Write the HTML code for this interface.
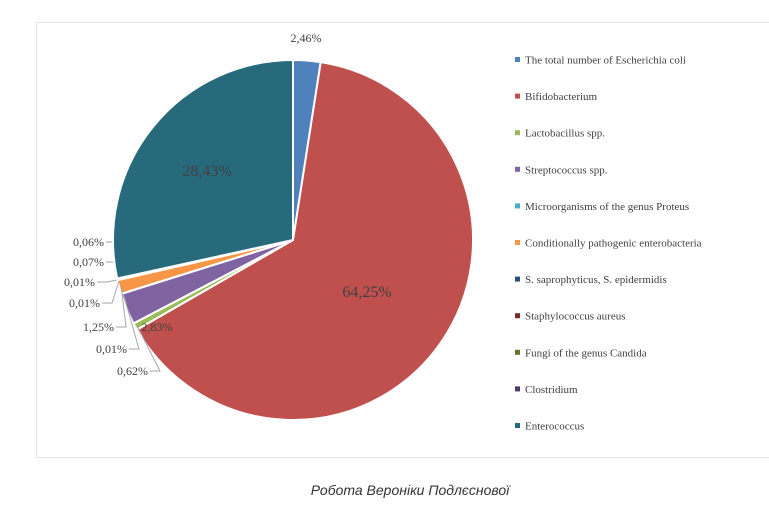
<!DOCTYPE html>
<html><head><meta charset="utf-8"><style>
body{margin:0;background:#fff;width:769px;height:516px;overflow:hidden;position:relative;font-family:"Liberation Serif",serif}
#frame{position:absolute;left:36px;top:22px;width:740px;height:436px;border:1px solid #e6e6e6;box-sizing:border-box;background:#fff}
#cap{position:absolute;left:0;width:820px;top:482px;text-align:center;font-family:"Liberation Sans",sans-serif;font-style:italic;font-size:14px;color:#333}
</style></head><body>
<div id="frame"></div>
<svg id="chart" width="769" height="516" style="position:absolute;left:0;top:0"></svg>
<div id="cap">Робота Вероніки Подлєснової</div>
<script>
const categories=["The total number of Escherichia coli","Bifidobacterium","Lactobacillus spp.","Streptococcus spp.","Microorganisms of the genus Proteus","Conditionally pathogenic enterobacteria","S. saprophyticus, S. epidermidis","Staphylococcus aureus","Fungi of the genus Candida","Clostridium","Enterococcus"];
const values=[2.46,64.25,0.62,2.83,0.01,1.25,0.01,0.01,0.07,0.06,28.43];
const labels=["2,46%","64,25%","0,62%","2,83%","0,01%","1,25%","0,01%","0,01%","0,07%","0,06%","28,43%"];
const colors=["#4f81bd","#c0504d","#9bbb59","#8064a2","#4bacc6","#f79646","#2c4d75","#772c2a","#5f7530","#4d3b62","#276a7c"];
const NS="http://www.w3.org/2000/svg";
const svg=document.getElementById('chart');
const cx=293,cy=240,R=180;
function mk(t,a){const e=document.createElementNS(NS,t);for(const k in a)e.setAttribute(k,a[k]);return e;}
const total=values.reduce((a,b)=>a+b,0);
function pt(ang,r){return [cx+r*Math.sin(ang),cy-r*Math.cos(ang)];}
// label placement (outside labels) keyed by index
const outside={0:[306,42,'middle'],2:[148,375,'end'],4:[127,353,'end'],5:[114,331,'end'],6:[100,307,'end'],7:[95,286,'end'],8:[104,266,'end'],9:[104,246,'end']};
const inside={1:[367,297,16],3:[157,331,12],10:[207,176,16]};
let a0=0;
values.forEach((v,i)=>{
  const a1=a0+v/total*2*Math.PI;
  const p0=pt(a0,R),p1=pt(a1,R);
  const large=(a1-a0)>Math.PI?1:0;
  const p=mk('path',{d:`M${cx},${cy}L${p0[0]},${p0[1]}A${R},${R} 0 ${large} 1 ${p1[0]},${p1[1]}Z`,fill:colors[i],stroke:'#fff','stroke-width':2});
  
  
  svg.appendChild(p);
  const mid=(a0+a1)/2;
  if(outside[i]){
    const [lx,ly,anc]=outside[i];
    const e=pt(mid,R-2);
    if(i!==0){
      const ln=mk('polyline',{points:`${lx+2},${ly-4} ${lx+12},${ly-4} ${e[0]},${e[1]}`,fill:'none',stroke:'#a6a6a6','stroke-width':1});
      
      
      svg.appendChild(ln);
    }
    const t=mk('text',{x:lx,y:ly,'text-anchor':anc,'font-size':12,fill:'#404040','font-family':'Liberation Serif, serif'});
    t.textContent=labels[i];
    
    
    svg.appendChild(t);
  }
  if(inside[i]){
    const [lx,ly,fs]=inside[i];
    const t=mk('text',{x:lx,y:ly,'text-anchor':'middle','font-size':fs,fill:'#404040','font-family':'Liberation Serif, serif'});
    t.textContent=labels[i];
    
    
    svg.appendChild(t);
  }
  a0=a1;
});
categories.forEach((c,i)=>{
  const y=60+i*36.6;
  const g=mk('g',{});
  
  
  g.appendChild(mk('rect',{x:515,y:y-3,width:5,height:5,fill:colors[i]}));
  const t=mk('text',{x:525,y:y+3.5,'font-size':11,fill:'#404040','font-family':'Liberation Serif, serif'});
  t.textContent=c;
  g.appendChild(t);
  svg.appendChild(g);
});
</script>
</body></html>
